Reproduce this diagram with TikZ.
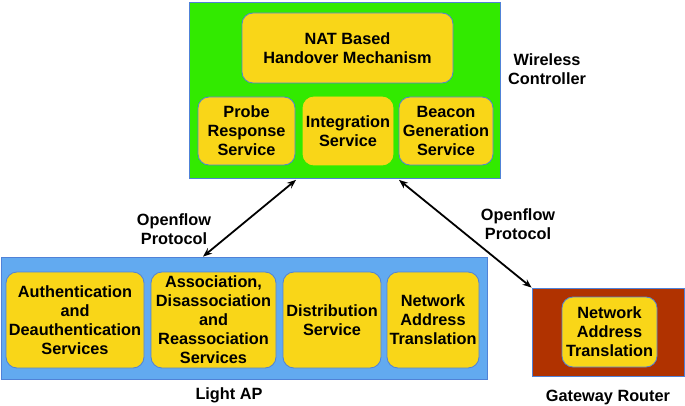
\documentclass[tikz,border=0pt]{standalone}
\usepackage{fontspec}
\setmainfont{Liberation Sans}
\usetikzlibrary{arrows.meta,calc}
\definecolor{cgreen}{RGB}{50,234,0}
\definecolor{cyellow}{RGB}{249,214,24}
\definecolor{cblue}{RGB}{98,170,240}
\definecolor{cbrown}{RGB}{176,50,0}
\definecolor{cborder}{RGB}{80,130,215}
\begin{document}
\begin{tikzpicture}[x=1pt,y=-1pt,
  every node/.style={font=\fontsize{16.3}{19}\selectfont\bfseries, align=center, inner sep=0pt},
  frame/.style={draw=cborder, line width=0.8pt, rectangle},
  yb/.style={draw=cborder, line width=0.8pt, fill=cyellow, rounded corners=11pt},
  link/.style={line width=1.8pt, {Stealth[length=9pt,width=7pt]}-{Stealth[length=9pt,width=7pt]}}]
\useasboundingbox (0,0) rectangle (685,406);
% Wireless controller
\node[frame, fill=cgreen, minimum width=311pt, minimum height=176pt] (wc) at (344.5,90) {};
\node[yb, minimum width=211pt, minimum height=70pt] (nat) at (347.5,48) {NAT Based\\Handover Mechanism};
\node[yb, minimum width=97pt, minimum height=68pt] (probe) at (246.5,131) {Probe\\Response\\Service};
\node[yb, draw=cyellow, minimum width=90pt, minimum height=68pt] (integ) at (348,131) {Integration\\Service};
\node[yb, minimum width=94pt, minimum height=68pt] (beacon) at (446,131) {Beacon\\Generation\\Service};
\node (wcl) at (547,69) {Wireless\\Controller};
% Light AP
\node[frame, fill=cblue, minimum width=486pt, minimum height=122pt] (lap) at (244,318) {};
\node[yb, minimum width=138pt, minimum height=96pt] (auth) at (75,320) {Authentication\\and\\Deauthentication\\Services};
\node[yb, minimum width=125pt, minimum height=96pt] (assoc) at (213.5,320) {Association,\\Disassociation\\and\\Reassociation\\Services};
\node[yb, minimum width=98pt, minimum height=96pt] (dist) at (332,320) {Distribution\\Service};
\node[yb, minimum width=92pt, minimum height=96pt] (lnat) at (433,320) {Network\\Address\\Translation};
\node (lapl) at (229,395) {Light AP};
% Gateway router
\node[frame, fill=cbrown, minimum width=152pt, minimum height=88pt] (gw) at (608,332) {};
\node[yb, minimum width=95pt, minimum height=70pt] (gnat) at (609.5,332) {Network\\Address\\Translation};
\node (gwl) at (608,397) {Gateway Router};
% links
\node (of1) at (174,229) {Openflow\\Protocol};
\node (of2) at (518,224) {Openflow\\Protocol};
\draw[link] ([xshift=-48.5pt,yshift=-1.5pt]wc.south) -- ([xshift=-41pt]lap.north);
\draw[link] ([xshift=54.5pt,yshift=-1.5pt]wc.south) -- (gw.north west);
\end{tikzpicture}
\end{document}
